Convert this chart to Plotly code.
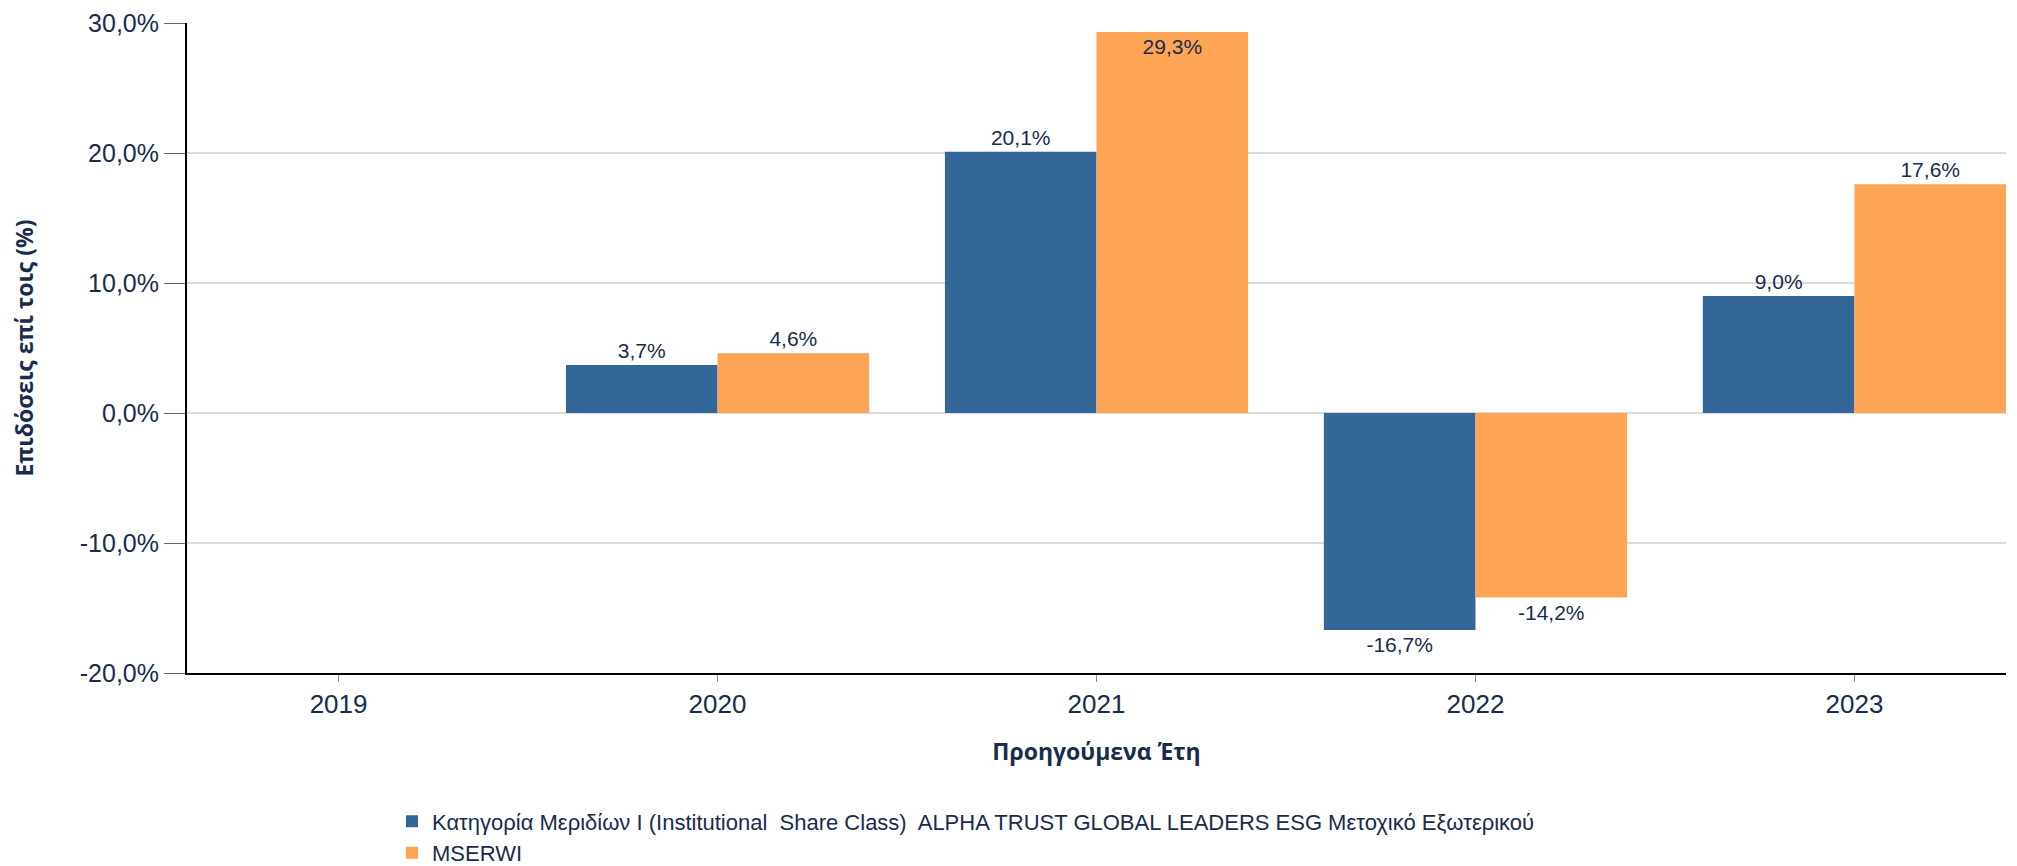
import plotly.graph_objects as go

years = ["2019", "2020", "2021", "2022", "2023"]
fund_name = "Κατηγορία Μεριδίων I (Institutional  Share Class)  ALPHA TRUST GLOBAL LEADERS ESG Μετοχικό Εξωτερικού"
bench_name = "MSERWI"
fund_values = [None, 3.7, 20.1, -16.7, 9.0]
bench_values = [None, 4.6, 29.3, -14.2, 17.6]
y_ticks = [-20, -10, 0, 10, 20, 30]

TEXT = "#1a2b4c"
FONT = "Liberation Sans, Arial, sans-serif"
TITLE_FONT = "Open Sans, sans-serif"


def fmt(v):
    return f"{v:.1f}%".replace(".", ",")


def labels(vals):
    return ["" if v is None else fmt(v) for v in vals]


def positions(vals):
    return ["inside" if (v is not None and v > 28) else "outside" for v in vals]


def bar(vals, name, color):
    tf = dict(size=21, color=TEXT, family=FONT)
    return go.Bar(
        x=years, y=vals, name=name,
        marker=dict(color=color, line=dict(width=0)),
        text=labels(vals), textposition=positions(vals),
        insidetextanchor="end", textangle=0,
        textfont=tf, insidetextfont=tf, outsidetextfont=tf,
        cliponaxis=False,
    )


fig = go.Figure()
fig.add_trace(bar(fund_values, fund_name, "#336699"))
fig.add_trace(bar(bench_values, bench_name, "#FFA555"))

# page body has an 8px margin: figure is sized/margined to compensate
fig.update_layout(
    width=2009, height=858,
    paper_bgcolor="white", plot_bgcolor="white",
    font=dict(family=FONT, color=TEXT, size=20),
    barmode="group", bargap=0.2, bargroupgap=0,
    margin=dict(l=179, r=11, t=15, b=193, autoexpand=False),
    showlegend=True,
    legend=dict(
        orientation="v", x=(392 - 187) / 1819, xanchor="left",
        y=-0.196, yanchor="top",
        traceorder="normal",
        font=dict(size=22, color=TEXT, family=FONT),
        bgcolor="rgba(0,0,0,0)",
    ),
    xaxis=dict(
        type="category", range=[-0.4, 4.4],
        showline=True, linecolor="black", linewidth=2,
        ticks="outside", ticklen=7, tickcolor="#888888", tickwidth=1,
        tickfont=dict(size=26, color=TEXT, family=FONT),
        showgrid=False,
        title=dict(text="<b>Προηγούμενα Έτη</b>", font=dict(size=23, color=TEXT, family=TITLE_FONT), standoff=26),
    ),
    yaxis=dict(
        range=[-20, 30], tickvals=y_ticks, ticktext=[fmt(t) for t in y_ticks],
        showline=True, linecolor="black", linewidth=2,
        ticks="outside", ticklen=21, tickcolor="#666666", tickwidth=1,
        tickfont=dict(size=25, color=TEXT, family=FONT),
        showgrid=True, gridcolor="#dcdcdc", gridwidth=2,
        zeroline=False,
        title=dict(text="<b>Επιδόσεις επί τοις (%)</b>", font=dict(size=23, color=TEXT, family=TITLE_FONT), standoff=40),
    ),
)

fig.write_html("out.html")
